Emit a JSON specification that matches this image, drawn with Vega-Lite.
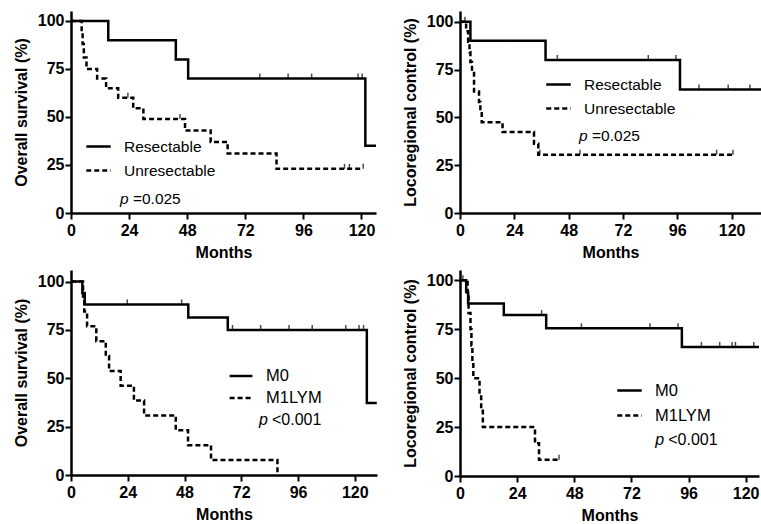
{
  "$schema": "https://vega.github.io/schema/vega-lite/v6.json",
  "padding": {"left": 13, "top": 11, "right": 0, "bottom": 0},
  "background": "white",
  "columns": 2,
  "spacing": {"column": 25, "row": 10},
  "config": {
    "view": {"stroke": null},
    "font": "Liberation Sans",
    "axis": {
      "grid": false, "domainColor": "black", "domainWidth": 2.5, "tickColor": "black", "tickWidth": 2, "tickSize": 6,
      "labelFont": "Liberation Sans", "labelFontSize": 16, "labelFontWeight": "bold", "labelColor": "black",
      "titleFont": "Liberation Sans", "titleFontSize": 16, "titleFontWeight": "bold", "titleColor": "black",
      "labelFlush": false, "labelOverlap": false
    },
    "axisX": {"labelPadding": 3, "titlePadding": 6},
    "axisY": {"labelPadding": 1, "titlePadding": 8},
    "legend": {
      "orient": "none", "title": null, "labelFont": "Liberation Sans", "labelFontSize": 15.5, "labelColor": "black",
      "symbolType": "stroke", "symbolStrokeColor": "black", "symbolStrokeWidth": 2.5, "symbolSize": 600,
      "rowPadding": 2, "labelOffset": 12, "padding": 0
    }
  },
  "resolve": {"scale": {"x": "independent", "y": "independent", "strokeDash": "independent"}, "legend": {"strokeDash": "independent"}},
  "datasets": {
    "os_res": [
      {"group": "Resectable", "t": 0, "s": 100}, {"group": "Resectable", "t": 15.4, "s": 90}, {"group": "Resectable", "t": 43.3, "s": 80},
      {"group": "Resectable", "t": 48.4, "s": 70}, {"group": "Resectable", "t": 121.6, "s": 35}, {"group": "Resectable", "t": 126, "s": 35},
      {"group": "Unresectable", "t": 0, "s": 100}, {"group": "Unresectable", "t": 4.4, "s": 94}, {"group": "Unresectable", "t": 4.8, "s": 88},
      {"group": "Unresectable", "t": 5.3, "s": 81}, {"group": "Unresectable", "t": 6.4, "s": 75}, {"group": "Unresectable", "t": 10.8, "s": 70},
      {"group": "Unresectable", "t": 14.5, "s": 65}, {"group": "Unresectable", "t": 19.5, "s": 60}, {"group": "Unresectable", "t": 25.7, "s": 54.5},
      {"group": "Unresectable", "t": 29.9, "s": 49}, {"group": "Unresectable", "t": 47.1, "s": 43}, {"group": "Unresectable", "t": 57.7, "s": 37},
      {"group": "Unresectable", "t": 64.7, "s": 31}, {"group": "Unresectable", "t": 84.9, "s": 23}, {"group": "Unresectable", "t": 120.7, "s": 23}
    ],
    "os_res_c": [
      {"t": 78, "s": 70}, {"t": 89.7, "s": 70}, {"t": 99.4, "s": 70}, {"t": 118.6, "s": 70}, {"t": 120.3, "s": 70},
      {"t": 23.5, "s": 60}, {"t": 45, "s": 49}, {"t": 113, "s": 23}, {"t": 115, "s": 23}, {"t": 120.7, "s": 23}
    ],
    "lc_res": [
      {"group": "Resectable", "t": 0, "s": 100}, {"group": "Resectable", "t": 4.6, "s": 90}, {"group": "Resectable", "t": 37.8, "s": 80},
      {"group": "Resectable", "t": 97.2, "s": 64.5}, {"group": "Resectable", "t": 133, "s": 64.5},
      {"group": "Unresectable", "t": 0, "s": 100}, {"group": "Unresectable", "t": 2.7, "s": 95}, {"group": "Unresectable", "t": 3.6, "s": 89.5},
      {"group": "Unresectable", "t": 4.2, "s": 84}, {"group": "Unresectable", "t": 4.6, "s": 79}, {"group": "Unresectable", "t": 5.3, "s": 74},
      {"group": "Unresectable", "t": 6.2, "s": 63.5}, {"group": "Unresectable", "t": 8.4, "s": 58}, {"group": "Unresectable", "t": 9, "s": 53},
      {"group": "Unresectable", "t": 9.6, "s": 47.5}, {"group": "Unresectable", "t": 18.8, "s": 42.3}, {"group": "Unresectable", "t": 32.7, "s": 36.2},
      {"group": "Unresectable", "t": 34.6, "s": 30.5}, {"group": "Unresectable", "t": 120.7, "s": 30.5}
    ],
    "lc_res_c": [
      {"t": 2.2, "s": 100}, {"t": 43, "s": 80}, {"t": 83.2, "s": 80}, {"t": 95.4, "s": 80},
      {"t": 105.6, "s": 64.5}, {"t": 118.5, "s": 64.5}, {"t": 128.1, "s": 64.5},
      {"t": 35.3, "s": 30.5}, {"t": 53, "s": 30.5}, {"t": 113.4, "s": 30.5}, {"t": 120.6, "s": 30.5}
    ],
    "os_m": [
      {"group": "M0", "t": 0, "s": 100}, {"group": "M0", "t": 4.8, "s": 94.1}, {"group": "M0", "t": 5.8, "s": 88.2},
      {"group": "M0", "t": 49.6, "s": 81.5}, {"group": "M0", "t": 66.3, "s": 75}, {"group": "M0", "t": 125.1, "s": 37.2},
      {"group": "M0", "t": 129.3, "s": 37.2},
      {"group": "M1LYM", "t": 0, "s": 100}, {"group": "M1LYM", "t": 5.1, "s": 92.3}, {"group": "M1LYM", "t": 5.6, "s": 84.6},
      {"group": "M1LYM", "t": 6.8, "s": 76.9}, {"group": "M1LYM", "t": 10.7, "s": 69.2}, {"group": "M1LYM", "t": 14.7, "s": 61.5},
      {"group": "M1LYM", "t": 16.1, "s": 53.8}, {"group": "M1LYM", "t": 21, "s": 46.2}, {"group": "M1LYM", "t": 26.6, "s": 38.5},
      {"group": "M1LYM", "t": 30.9, "s": 30.8}, {"group": "M1LYM", "t": 44.3, "s": 23.1}, {"group": "M1LYM", "t": 49.5, "s": 15.4},
      {"group": "M1LYM", "t": 59.2, "s": 7.7}, {"group": "M1LYM", "t": 87.3, "s": 0}
    ],
    "os_m_c": [
      {"t": 23.8, "s": 88.2}, {"t": 46.8, "s": 88.2},
      {"t": 68.3, "s": 75}, {"t": 80.2, "s": 75}, {"t": 92.2, "s": 75}, {"t": 102, "s": 75}, {"t": 116.2, "s": 75}, {"t": 121.8, "s": 75}, {"t": 123.7, "s": 75}
    ],
    "lc_m": [
      {"group": "M0", "t": 0, "s": 100}, {"group": "M0", "t": 2.6, "s": 94.1}, {"group": "M0", "t": 3.4, "s": 88.2},
      {"group": "M0", "t": 18.4, "s": 82.3}, {"group": "M0", "t": 36.2, "s": 75.5}, {"group": "M0", "t": 93.2, "s": 66},
      {"group": "M0", "t": 125.6, "s": 66},
      {"group": "M1LYM", "t": 0, "s": 100}, {"group": "M1LYM", "t": 3.2, "s": 91.7}, {"group": "M1LYM", "t": 3.6, "s": 83.3},
      {"group": "M1LYM", "t": 4.4, "s": 75}, {"group": "M1LYM", "t": 4.8, "s": 66.7}, {"group": "M1LYM", "t": 5.2, "s": 58.3},
      {"group": "M1LYM", "t": 5.6, "s": 50}, {"group": "M1LYM", "t": 8.2, "s": 41.7}, {"group": "M1LYM", "t": 8.9, "s": 33.3},
      {"group": "M1LYM", "t": 9.6, "s": 25}, {"group": "M1LYM", "t": 31.5, "s": 16.7}, {"group": "M1LYM", "t": 33.2, "s": 8.3},
      {"group": "M1LYM", "t": 41.6, "s": 8.3}
    ],
    "lc_m_c": [
      {"t": 1.2, "s": 100}, {"t": 34.3, "s": 82.3}, {"t": 51, "s": 75.5}, {"t": 79.8, "s": 75.5}, {"t": 91.6, "s": 75.5},
      {"t": 101.4, "s": 66}, {"t": 109.1, "s": 66}, {"t": 114.3, "s": 66}, {"t": 115.7, "s": 66}, {"t": 123.4, "s": 66},
      {"t": 41.6, "s": 8.3}
    ]
  },
  "concat": [
    {
      "width": 305, "height": 202,
      "layer": [
        {
          "data": {"name": "os_res"},
          "mark": {"type": "line", "interpolate": "step-after", "color": "black", "strokeWidth": 2.5, "clip": true},
          "encoding": {
            "x": {"field": "t", "type": "quantitative", "scale": {"domain": [0, 126], "nice": false, "zero": false}, "axis": {"title": "Months", "values": [0, 24, 48, 72, 96, 120]}},
            "y": {"field": "s", "type": "quantitative", "scale": {"domain": [0, 105.2], "nice": false}, "axis": {"title": "Overall survival (%)", "values": [0, 25, 50, 75, 100]}},
            "strokeDash": {"field": "group", "type": "nominal", "scale": {"domain": ["Resectable", "Unresectable"], "range": [[1, 0], [5, 3]]}, "legend": {"legendX": 14, "legendY": 122}}
          }
        },
        {
          "data": {"name": "os_res_c"},
          "mark": {"type": "point", "shape": "M0,0L0,-1", "size": 100, "color": "black", "strokeWidth": 1.5, "filled": false},
          "encoding": {"x": {"field": "t", "type": "quantitative"}, "y": {"field": "s", "type": "quantitative"}}
        },
        {
          "data": {"values": [{"p": "p", "v": "=0.025"}]},
          "layer": [
            {
              "mark": {"type": "text", "align": "left", "baseline": "middle", "fontSize": 15.5, "fontStyle": "italic", "color": "black"},
              "encoding": {"x": {"datum": 20.2}, "y": {"datum": 7.3}, "text": {"field": "p"}}
            },
            {
              "mark": {"type": "text", "align": "left", "baseline": "middle", "fontSize": 15.5, "dx": 13, "color": "black"},
              "encoding": {"x": {"datum": 20.2}, "y": {"datum": 7.3}, "text": {"field": "v"}}
            }
          ]
        }
      ]
    },
    {
      "width": 301, "height": 202,
      "layer": [
        {
          "data": {"name": "lc_res"},
          "mark": {"type": "line", "interpolate": "step-after", "color": "black", "strokeWidth": 2.5, "clip": true},
          "encoding": {
            "x": {"field": "t", "type": "quantitative", "scale": {"domain": [0, 133], "nice": false, "zero": false}, "axis": {"title": "Months", "values": [0, 24, 48, 72, 96, 120]}},
            "y": {"field": "s", "type": "quantitative", "scale": {"domain": [0, 105.6], "nice": false}, "axis": {"title": "Locoregional control (%)", "values": [0, 25, 50, 75, 100]}},
            "strokeDash": {"field": "group", "type": "nominal", "scale": {"domain": ["Resectable", "Unresectable"], "range": [[1, 0], [5, 3]]}, "legend": {"legendX": 85, "legendY": 60}}
          }
        },
        {
          "data": {"name": "lc_res_c"},
          "mark": {"type": "point", "shape": "M0,0L0,-1", "size": 100, "color": "black", "strokeWidth": 1.5, "filled": false},
          "encoding": {"x": {"field": "t", "type": "quantitative"}, "y": {"field": "s", "type": "quantitative"}}
        },
        {
          "data": {"values": [{"p": "p", "v": "=0.025"}]},
          "layer": [
            {
              "mark": {"type": "text", "align": "left", "baseline": "middle", "fontSize": 15.5, "fontStyle": "italic", "color": "black"},
              "encoding": {"x": {"datum": 52.6}, "y": {"datum": 40.3}, "text": {"field": "p"}}
            },
            {
              "mark": {"type": "text", "align": "left", "baseline": "middle", "fontSize": 15.5, "dx": 13, "color": "black"},
              "encoding": {"x": {"datum": 52.6}, "y": {"datum": 40.3}, "text": {"field": "v"}}
            }
          ]
        }
      ]
    },
    {
      "width": 306, "height": 205,
      "layer": [
        {
          "data": {"name": "os_m"},
          "mark": {"type": "line", "interpolate": "step-after", "color": "black", "strokeWidth": 2.5, "clip": true},
          "encoding": {
            "x": {"field": "t", "type": "quantitative", "scale": {"domain": [0, 129.4], "nice": false, "zero": false}, "axis": {"title": "Months", "values": [0, 24, 48, 72, 96, 120]}},
            "y": {"field": "s", "type": "quantitative", "scale": {"domain": [0, 106], "nice": false}, "axis": {"title": "Overall survival (%)", "values": [0, 25, 50, 75, 100]}},
            "strokeDash": {"field": "group", "type": "nominal", "scale": {"domain": ["M0", "M1LYM"], "range": [[1, 0], [5, 3]]}, "legend": {"legendX": 157, "legendY": 93, "labelFontSize": 16.5, "rowPadding": 0, "symbolSize": 520}}
          }
        },
        {
          "data": {"name": "os_m_c"},
          "mark": {"type": "point", "shape": "M0,0L0,-1", "size": 100, "color": "black", "strokeWidth": 1.5, "filled": false},
          "encoding": {"x": {"field": "t", "type": "quantitative"}, "y": {"field": "s", "type": "quantitative"}}
        },
        {
          "data": {"values": [{"p": "p", "v": "<0.001"}]},
          "layer": [
            {
              "mark": {"type": "text", "align": "left", "baseline": "middle", "fontSize": 16, "fontStyle": "italic", "color": "black"},
              "encoding": {"x": {"datum": 79.5}, "y": {"datum": 28.3}, "text": {"field": "p"}}
            },
            {
              "mark": {"type": "text", "align": "left", "baseline": "middle", "fontSize": 16, "dx": 13, "color": "black"},
              "encoding": {"x": {"datum": 79.5}, "y": {"datum": 28.3}, "text": {"field": "v"}}
            }
          ]
        }
      ]
    },
    {
      "width": 299, "height": 206,
      "layer": [
        {
          "data": {"name": "lc_m"},
          "mark": {"type": "line", "interpolate": "step-after", "color": "black", "strokeWidth": 2.5, "clip": true},
          "encoding": {
            "x": {"field": "t", "type": "quantitative", "scale": {"domain": [0, 125.6], "nice": false, "zero": false}, "axis": {"title": "Months", "values": [0, 24, 48, 72, 96, 120]}},
            "y": {"field": "s", "type": "quantitative", "scale": {"domain": [0, 105.3], "nice": false}, "axis": {"title": "Locoregional control (%)", "values": [0, 25, 50, 75, 100]}},
            "strokeDash": {"field": "group", "type": "nominal", "scale": {"domain": ["M0", "M1LYM"], "range": [[1, 0], [5, 3]]}, "legend": {"legendX": 156, "legendY": 107, "labelFontSize": 16.5, "rowPadding": 3, "symbolSize": 600}}
          }
        },
        {
          "data": {"name": "lc_m_c"},
          "mark": {"type": "point", "shape": "M0,0L0,-1", "size": 100, "color": "black", "strokeWidth": 1.5, "filled": false},
          "encoding": {"x": {"field": "t", "type": "quantitative"}, "y": {"field": "s", "type": "quantitative"}}
        },
        {
          "data": {"values": [{"p": "p", "v": "<0.001"}]},
          "layer": [
            {
              "mark": {"type": "text", "align": "left", "baseline": "middle", "fontSize": 16, "fontStyle": "italic", "color": "black"},
              "encoding": {"x": {"datum": 82}, "y": {"datum": 18.5}, "text": {"field": "p"}}
            },
            {
              "mark": {"type": "text", "align": "left", "baseline": "middle", "fontSize": 16, "dx": 13, "color": "black"},
              "encoding": {"x": {"datum": 82}, "y": {"datum": 18.5}, "text": {"field": "v"}}
            }
          ]
        }
      ]
    }
  ]
}
